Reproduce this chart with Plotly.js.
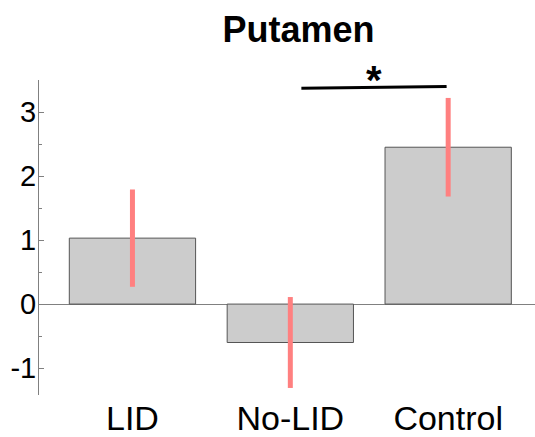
<!DOCTYPE html>
<html>
<head>
<meta charset="utf-8">
<script src="https://cdn.plot.ly/plotly-3.0.1.min.js"></script>
<style>html,body{margin:0;padding:0;background:#fff;}#chart{width:535px;height:437px;}</style>
</head>
<body>
<div id="chart"></div>
<script>
var categories = ["LID", "No-LID", "Control"];
var positions = [0, 1, 2];
var means = [1.03, -0.60, 2.45];
var errors = [0.76, 0.71, 0.77];
var yTicks = [-1, 0, 1, 2, 3];
var yTickText = ["-1", "0", "1", "2", "3"];
var sigFrom = 1.07, sigTo = 1.99;
var sigY = [3.37, 3.40];

var trace = {
  type: "bar",
  x: positions,
  y: means,
  width: 0.8,
  marker: {color: "#cccccc", line: {color: "#555555", width: 1}},
  error_y: {type: "data", array: errors, visible: true, color: "#ff8080", thickness: 5, width: 0},
  hoverinfo: "none"
};

var layout = {
  width: 535, height: 437,
  margin: {l: 38.5, r: 0, t: 79.6, b: 42},
  paper_bgcolor: "#fff", plot_bgcolor: "#fff",
  showlegend: false,
  font: {family: "Liberation Sans, Arial, sans-serif", color: "#000"},
  title: {text: "<b>Putamen</b>", font: {size: 36, color: "#000"}, xref: "container", yref: "container",
          x: 0.558, y: 0.932, xanchor: "center", yanchor: "middle"},
  xaxis: {range: [-0.592, 2.55], tickvals: positions, ticktext: categories, showline: false, showgrid: false,
          zeroline: false, ticks: "", tickfont: {size: 34}, fixedrange: true},
  yaxis: {range: [-1.42, 3.5], tickvals: yTicks, ticktext: yTickText, showline: true, linecolor: "#808080", linewidth: 1,
          showgrid: false, zeroline: true, zerolinecolor: "#808080", zerolinewidth: 1,
          ticks: "inside", ticklen: 5, tickcolor: "#808080", tickwidth: 1,
          minor: {dtick: 0.5, ticks: "inside", ticklen: 3, tickcolor: "#808080"},
          tickfont: {size: 29}, ticklabelstandoff: -4, fixedrange: true},
  shapes: [{type: "line", xref: "x", yref: "y", x0: sigFrom, x1: sigTo, y0: sigY[0], y1: sigY[1],
            line: {color: "#000", width: 3}}],
  annotations: [{xref: "x", yref: "y", x: (sigFrom + sigTo) / 2, y: sigY[1], text: "<b>*</b>", showarrow: false,
                 font: {size: 40, color: "#000"}, xanchor: "center", yanchor: "bottom", yshift: -18}]
};

Plotly.newPlot("chart", [trace], layout, {displayModeBar: false, staticPlot: true});
</script>
</body>
</html>
